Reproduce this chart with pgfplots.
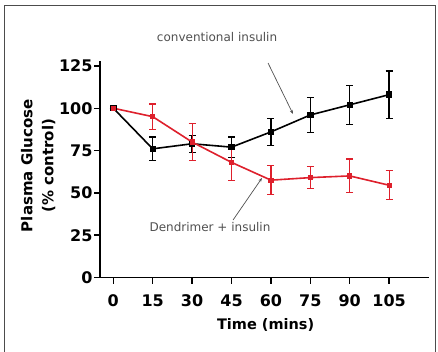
\documentclass[border=0pt]{standalone}
\usepackage{pgfplots}
\pgfplotsset{compat=1.18}
\usepackage{fontspec}
\setmainfont{DejaVu Sans}
\usetikzlibrary{arrows.meta}
\definecolor{dred}{RGB}{222,32,44}
\definecolor{anno}{RGB}{80,80,80}
\begin{document}
\begin{tikzpicture}
\path[use as bounding box] (-113.3pt,-73.5pt) rectangle (324.7pt,277.5pt);
\draw[gray!60!black, line width=1pt] (-108.3pt,-90pt) -- (-108.3pt,271.5pt) -- (321.7pt,271.5pt) -- (321.7pt,-90pt);
\begin{axis}[
  anchor=origin, at={(0pt,0pt)},
  x=2.627pt, y=1.693pt,
  xmin=-5, xmax=120, ymin=0, ymax=128,
  axis x line*=bottom, axis y line*=left,
  axis line style={line width=1.6pt},
  xtick={0,15,...,105}, ytick={0,25,...,125},
  tick align=outside, major tick length=6pt,
  tick style={line width=1.4pt, black},
  /pgf/number format/assume math mode=true,
  ticklabel style={font=\fontsize{16}{19}\selectfont\bfseries},
  xticklabel style={inner sep=2pt, yshift=-9pt},
  yticklabel style={inner sep=1.5pt},
  clip=false,
]
\addplot[black, line width=1.6pt, mark=square*, mark size=2.4pt,
  error bars/.cd, y dir=both, y explicit,
  error bar style={line width=1.3pt, black},
  error mark options={rotate=90, mark size=3.5pt, line width=1.3pt, black}]
  table[x=t, y=v, y error=e] {
t v e
0 100 0
15 76 7
30 79 5
45 77 6
60 86 8
75 96 10.5
90 102 11.5
105 108 14
};
\addplot[dred, line width=1.6pt, mark=square*, mark size=1.8pt,
  error bars/.cd, y dir=both, y explicit,
  error bar style={line width=1.2pt, dred},
  error mark options={rotate=90, mark size=3.5pt, line width=1.2pt, dred}]
  table[x=t, y=v, y error=e] {
t v e
0 100 0
15 95 7.5
30 80 11
45 68 10.5
60 57.5 8.5
75 59 6.5
90 60 10
105 54.5 8.5
};
\draw[anno, line width=0.7pt, -{Stealth[length=4pt, width=3pt]}] (axis cs:58.9,126.7) -- (axis cs:68.4,96.6);
\draw[anno, line width=0.7pt, -{Stealth[length=4pt, width=3pt]}] (axis cs:45.6,34) -- (axis cs:56.6,58.8);
\node[anno, font=\fontsize{12}{14}\selectfont] at (axis cs:39.5,142) {conventional insulin};
\node[anno, font=\fontsize{12}{14}\selectfont] at (axis cs:36.8,29.8) {Dendrimer + insulin};
\node[font=\fontsize{14.5}{16}\selectfont\bfseries] at (axis cs:58,-28) {Time (mins)};
\node[rotate=90, align=center, font=\fontsize{15}{21}\selectfont\bfseries] at (axis cs:-28.6,66) {Plasma Glucose\\(\% control)};
\end{axis}
\end{tikzpicture}
\end{document}
